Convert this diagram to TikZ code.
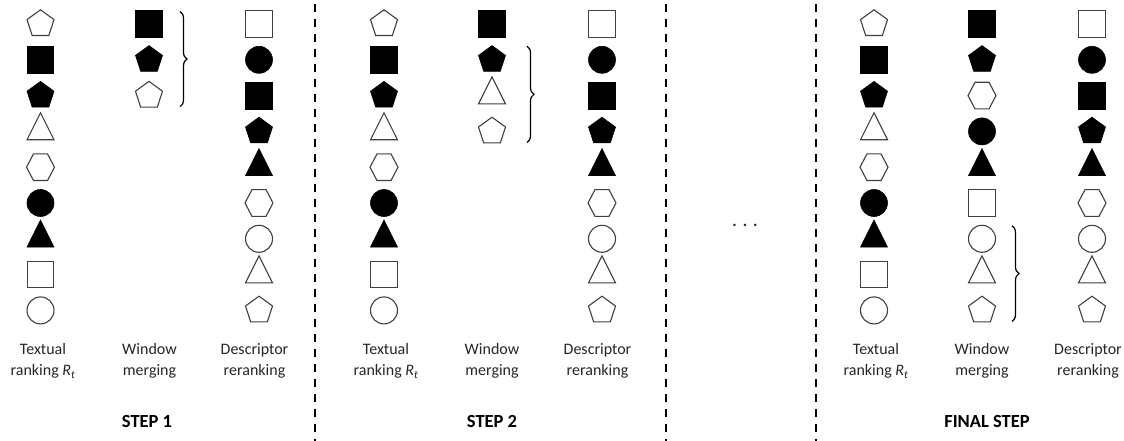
\documentclass[tikz,border=0pt]{standalone}
\usepackage{fontspec}
\setmainfont{Carlito}
\usetikzlibrary{shapes.geometric,decorations.pathreplacing}

\begin{document}
\begin{tikzpicture}[x=1pt,y=-1pt,
  hol/.style={draw=black!75,line width=1.1pt,fill=white},
  blk/.style={draw=black,fill=black,line width=0.6pt},
  sq/.style={rectangle,inner sep=0pt,minimum size=26.5pt},
  ci/.style={circle,inner sep=0pt,minimum size=27pt},
  pe/.style={regular polygon,regular polygon sides=5,inner sep=0pt,minimum size=28.4pt},
  hx/.style={regular polygon,regular polygon sides=6,inner sep=0pt,minimum size=28pt,yscale=1.1},
  tr/.style={isosceles triangle,isosceles triangle stretches,shape border rotate=90,
             inner sep=0pt,minimum width=27pt,minimum height=27pt},
  lbl/.style={align=center,font=\fontsize{16}{21.5}\selectfont,text=black!85},
  steplbl/.style={font=\fontsize{18.5}{22}\selectfont\bfseries},
  sep/.style={line width=2pt,dash pattern=on 8pt off 7pt},
  wbrace/.style={decorate,decoration={brace,amplitude=7pt},line width=1.2pt}
]
\useasboundingbox (0,0) rectangle (1124,441);

% ---------- ranking columns ----------
\newcommand{\textualcol}[2]{%
  \foreach \s/\f [count=\i] in {pe/hol,sq/blk,pe/blk,tr/hol,hx/hol,ci/blk,tr/blk,sq/hol,ci/hol}
    \node[\s,\f] (#1\i) at (#2,{24+35.8*(\i-1)}) {};}
\newcommand{\descrcol}[2]{%
  \foreach \s/\f [count=\i] in {sq/hol,ci/blk,sq/blk,pe/blk,tr/blk,hx/hol,ci/hol,tr/hol,pe/hol}
    \node[\s,\f] (#1\i) at (#2,{24+35.8*(\i-1)}) {};}

% Step 1
\textualcol{a}{40.5}
\foreach \s/\f [count=\i] in {sq/blk,pe/blk,pe/hol}
  \node[\s,\f] (b\i) at (149,{24+35.8*(\i-1)}) {};
\descrcol{c}{259}

% Step 2
\textualcol{d}{384}
\foreach \s/\f [count=\i] in {sq/blk,pe/blk,tr/hol,pe/hol}
  \node[\s,\f] (e\i) at (492,{24+35.8*(\i-1)}) {};
\descrcol{f}{602}

% Final step
\textualcol{g}{874}
\foreach \s/\f [count=\i] in {sq/blk,pe/blk,hx/hol,ci/blk,tr/blk,sq/hol,ci/hol,tr/hol,pe/hol}
  \node[\s,\f] (h\i) at (982,{24+35.8*(\i-1)}) {};
\descrcol{k}{1092}

% ---------- merging windows ----------
\coordinate (bx1) at (180,0);
\coordinate (bx2) at (527,0);
\coordinate (bx3) at (1012,0);
\draw[wbrace] ([yshift=-1pt]b1.north -| bx1) -- ([yshift=1pt]b3.south -| bx1);
\draw[wbrace] ([yshift=-1pt]e2.north -| bx2) -- ([yshift=1pt]e4.south -| bx2);
\draw[wbrace] ([yshift=-1pt]h7.north -| bx3) -- ([yshift=1pt]h9.south -| bx3);

% ---------- column captions ----------
\foreach \n/\x in {ta/43,tb/386,tc/876}
  \node[lbl] (\n) at (\x,361) {Textual\\ranking \textit{R}\textsubscript{\textit{t}}};
\foreach \n/\x in {wa/149.5,wb/492,wc/982}
  \node[lbl] (\n) at (\x,361) {Window\\merging};
\foreach \n/\x in {da/254.5,db/597.5,dc/1088}
  \node[lbl] (\n) at (\x,361) {Descriptor\\reranking};

\node[steplbl] (s1) at (147,421) {STEP 1};
\node[steplbl] (s2) at (492,421) {STEP 2};
\node[steplbl] (s3) at (987,421) {FINAL STEP};

\node[lbl,font=\fontsize{16.5}{20}\selectfont\bfseries] (dots) at (745,225) {.\hspace{6pt}.\hspace{6pt}.};

% ---------- step separators ----------
\foreach \n/\x in {1/315,2/666,3/816}{
  \coordinate (u\n) at (\x,4);
  \coordinate (v\n) at (\x,441);
  \draw[sep] (u\n) -- (v\n);
}
\end{tikzpicture}
\end{document}
